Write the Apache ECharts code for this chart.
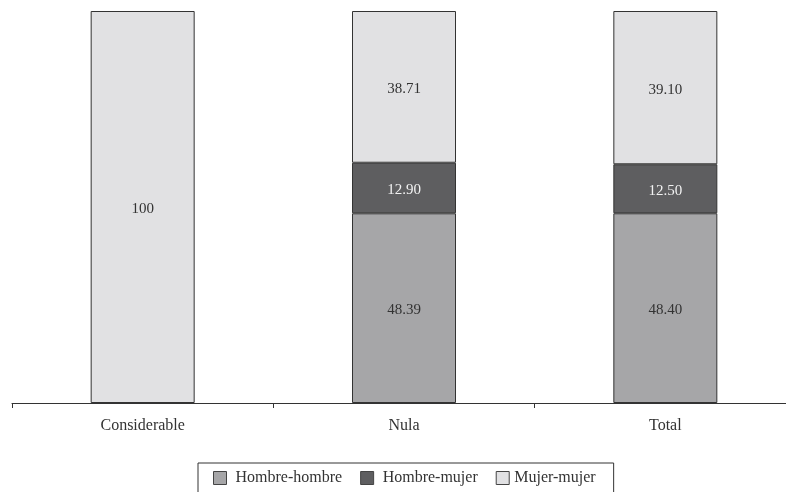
<!DOCTYPE html>
<html><head><meta charset="utf-8">
<script src="https://cdn.jsdelivr.net/npm/echarts@6/dist/echarts.min.js"></script>
<style>html,body{margin:0;padding:0;background:#fff;overflow:hidden;width:786px;height:492px}#c{width:796px;height:492px}</style>
</head><body><div id="c"></div>
<script>
const categories = ['Considerable', 'Nula', 'Total'];
const hombreHombre = [null, 48.39, 48.40];
const hombreMujer = [null, 12.90, 12.50];
const mujerMujer = [100, 38.71, 39.10];
const labelsHH = ['', '48.39', '48.40'];
const labelsHM = ['', '12.90', '12.50'];
const labelsMM = ['100', '38.71', '39.10'];
const legendNames = ['Hombre-hombre', 'Hombre-mujer', 'Mujer-mujer'];

const font = 'Liberation Serif';
function mk(name, data, labels, color, labelColor) {
  return {
    name, type: 'bar', stack: 's', data, barWidth: 104,
    itemStyle: { color, borderColor: '#333', borderWidth: 1 },
    label: { show: true, position: 'inside', fontFamily: font, fontSize: 15, color: labelColor,
      offset: [0, 2], formatter: p => labels[p.dataIndex] },
    emphasis: { disabled: true }
  };
}
const chart = echarts.init(document.getElementById('c'));
chart.setOption({
  animation: false,
  grid: { left: 12, right: 0, top: 11, bottom: 89 },
  legend: {
    top: 463, left: 198,
    padding: [7, 18, 7, 15], itemGap: 18, itemWidth: 13, itemHeight: 13,
    borderColor: '#333', borderWidth: 1, borderRadius: 0,
    icon: 'rect',
    textStyle: { fontFamily: font, fontSize: 16, color: '#333' },
    formatter: n => (n === legendNames[2] ? '' : ' ') + n,
    data: legendNames.map(n => ({ name: n, itemStyle: { borderColor: '#444', borderWidth: 1 } }))
  },
  xAxis: {
    type: 'category', data: categories,
    axisLine: { lineStyle: { color: '#333', width: 1 } },
    axisTick: { show: true, inside: false, length: 5, alignWithLabel: false, lineStyle: { color: '#333' } },
    axisLabel: { fontFamily: font, fontSize: 16, color: '#333', margin: 15 }
  },
  yAxis: { type: 'value', min: 0, max: 100, show: false, splitLine: { show: false } },
  series: [
    mk(legendNames[0], hombreHombre, labelsHH, '#a6a6a8', '#333'),
    mk(legendNames[1], hombreMujer, labelsHM, '#5e5e60', '#f2f2f2'),
    mk(legendNames[2], mujerMujer, labelsMM, '#e1e1e3', '#333')
  ]
});
</script></body></html>
